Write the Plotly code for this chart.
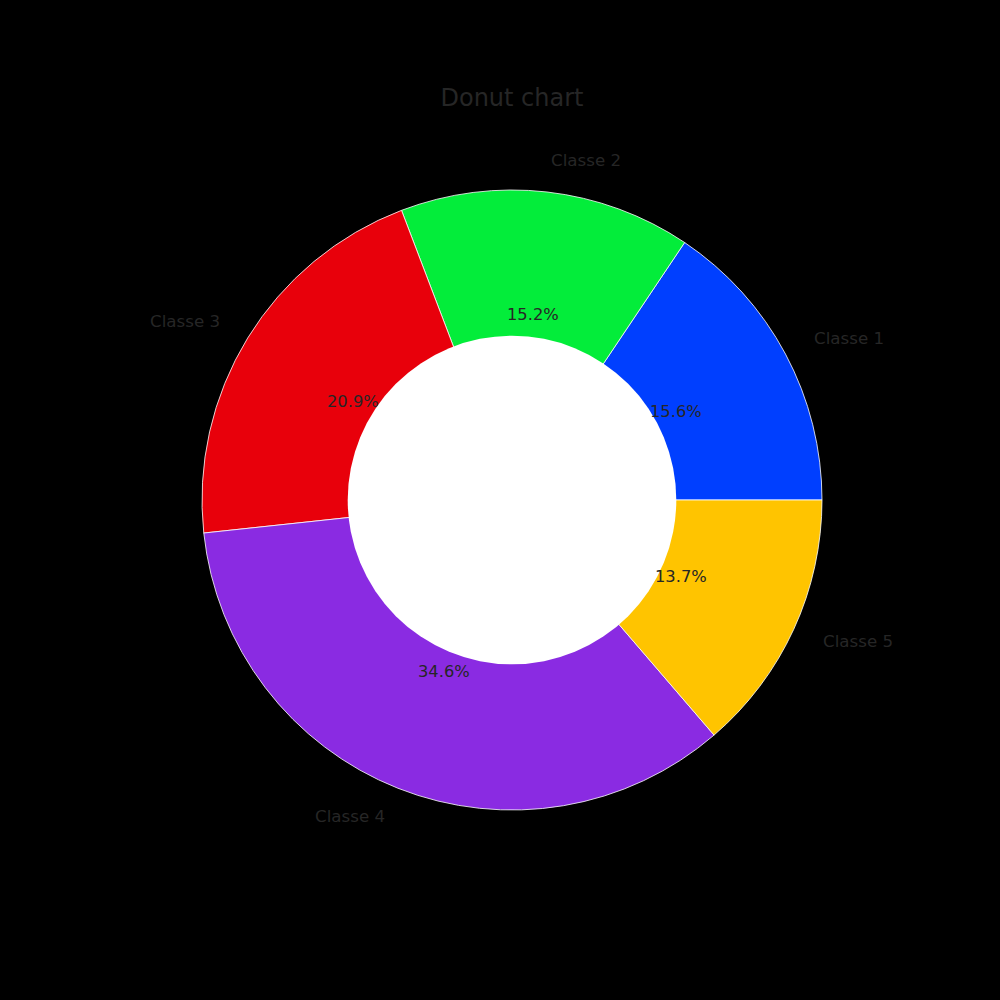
import numpy as np
import plotly.graph_objects as go

labels = ["Classe 1", "Classe 2", "Classe 3", "Classe 4", "Classe 5"]
values = [15.6, 15.2, 20.9, 34.6, 13.7]
colors = ["#003FFF", "#03ED3A", "#E8000B", "#8A2BE2", "#FFC400"]
title = "Donut chart"

# geometry (paper coordinates, square figure)
cx, cy, R = 0.512, 0.5, 0.31
hole = 0.53
text_color = "#262626"
font = "DejaVu Sans"

vals = np.array(values, dtype=float)
frac = vals / vals.sum()
# first slice starts at 3 o'clock, going counterclockwise (plotly measures
# rotation clockwise from 12 o'clock and ends first ccw slice at rotation)
rotation = 90 - 360 * frac[0]

fig = go.Figure()
fig.add_trace(go.Pie(
    labels=labels, values=values, sort=False,
    direction="counterclockwise", rotation=rotation,
    marker=dict(colors=colors, line=dict(color="white", width=0.8)),
    textinfo="none", hoverinfo="label+percent",
    domain=dict(x=[cx - R, cx + R], y=[cy - R, cy + R]),
    showlegend=False,
))

# white centre circle
fig.add_shape(type="circle", xref="paper", yref="paper",
              x0=cx - hole * R, x1=cx + hole * R,
              y0=cy - hole * R, y1=cy + hole * R,
              fillcolor="white", line=dict(width=0), layer="above")

cum = np.concatenate([[0], np.cumsum(frac)])
mids = (cum[:-1] + cum[1:]) / 2 * 2 * np.pi

annotations = []
for lab, f, a in zip(labels, frac, mids):
    x_l = cx + 1.1 * R * np.cos(a)
    y_l = cy + 1.1 * R * np.sin(a)
    annotations.append(dict(
        x=x_l, y=y_l + 0.001, xref="paper", yref="paper", text=lab, showarrow=False,
        xanchor="left" if np.cos(a) > 0 else "right", yanchor="middle",
        borderpad=0,
        font=dict(family=font, size=16.7, color=text_color)))
    x_p = cx + 0.6 * R * np.cos(a)
    y_p = cy + 0.6 * R * np.sin(a)
    annotations.append(dict(
        x=x_p, y=y_p + 0.001, xref="paper", yref="paper", text=f"{f*100:.1f}%",
        showarrow=False, xanchor="center", yanchor="middle", borderpad=0,
        font=dict(family=font, size=16.3, color=text_color)))

fig.update_layout(
    width=1000, height=1000,
    margin=dict(l=0, r=0, t=0, b=0),
    paper_bgcolor="black", plot_bgcolor="black",
    title=dict(text=title, x=0.512, xanchor="center", y=0.902, yanchor="middle",
               font=dict(family=font, size=24, color=text_color)),
    annotations=annotations,
)

fig.write_html("out.html")
